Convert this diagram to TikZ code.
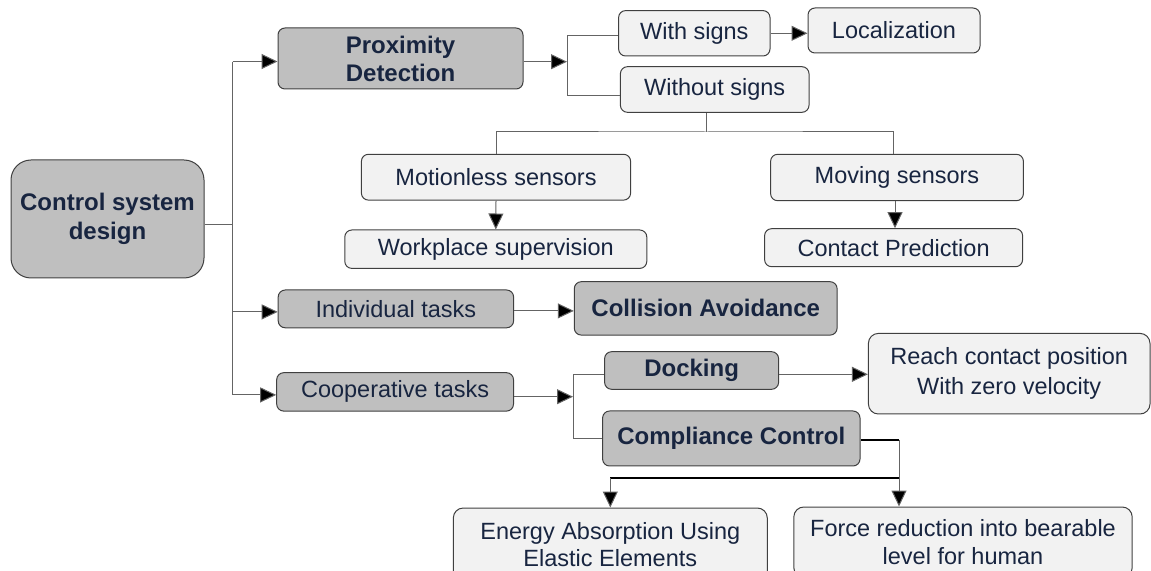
\documentclass[tikz,border=0pt]{standalone}
\usepackage{fontspec}
\setmainfont{Liberation Sans}
\usetikzlibrary{arrows.meta, positioning, calc}
\definecolor{boxgray}{RGB}{191,191,191}
\definecolor{boxlight}{RGB}{242,242,242}
\definecolor{txtblue}{RGB}{24,37,64}
\definecolor{linegray}{RGB}{100,100,100}

\begin{document}
\begin{tikzpicture}[x=0.5pt,y=-0.5pt,
      graybox/.style={
         rectangle,
         rounded corners=3.5pt,
         draw=black!75,
         fill=boxgray,
         line width=0.5pt,
         text=txtblue,
         inner sep=0pt,
         align=center,
         font=\fontsize{11.75}{15}\selectfont},
      lightbox/.style={
         graybox,
         fill=boxlight},
      boldbox/.style={
         graybox,
         font=\fontsize{12}{14}\selectfont\bfseries},
      myline/.style={draw=linegray, line width=0.5pt},
      myarrow/.style={myline, -{Triangle[length=8pt,width=7.5pt,fill=black]}}
      ]
      \useasboundingbox (0,0) rectangle (1151,571);
      \clip (0,0) rectangle (1151,571);

      % root and first level
      \node[boldbox, rounded corners=10pt, minimum width=96.5pt, minimum height=59pt,
            font=\fontsize{12}{14.3}\selectfont\bfseries] (csd) at (107.5,219) {Control system\\design};
      \node[boldbox, minimum width=122.5pt, minimum height=30.5pt] (prox) at (400.5,58.5) {Proximity\\Detection};
      \node[graybox, minimum width=117.7pt, minimum height=18.9pt] (ind) at (395.9,308.9) {Individual tasks};
      \node[graybox, minimum width=118.4pt, minimum height=19.2pt] (coop) at (395.1,391.9) {Cooperative tasks};

      % proximity branch
      \node[lightbox, minimum width=75.7pt, minimum height=22.7pt] (ws) at (694.3,33.3) {With signs};
      \node[lightbox, minimum width=86pt, minimum height=22.5pt] (loc) at (894,30.5) {Localization};
      \node[lightbox, minimum width=94.3pt, minimum height=22.8pt] (wos) at (714.7,89.5) {Without signs};
      \node[lightbox, minimum width=134.6pt, minimum height=22.9pt] (mls) at (496,177.2) {Motionless sensors};
      \node[lightbox, minimum width=151pt, minimum height=19.2pt] (wps) at (495.8,249.2) {Workplace supervision};
      \node[lightbox, minimum width=126.4pt, minimum height=23.2pt] (mvs) at (897,177.5) {Moving sensors};
      \node[lightbox, minimum width=129pt, minimum height=19pt] (cpr) at (893.6,247.7) {Contact Prediction};

      % tasks branch
      \node[boldbox, minimum width=131.4pt, minimum height=26.7pt] (col) at (705.7,308.4) {Collision Avoidance};
      \node[boldbox, minimum width=87pt, minimum height=18.8pt] (dock) at (691.6,370.5) {Docking};
      \node[lightbox, rounded corners=5pt, minimum width=140.8pt, minimum height=40.3pt] (reach) at (1009.2,373.7) {Reach contact position\\With zero velocity};
      \node[boldbox, minimum width=128.7pt, minimum height=27.5pt] (comp) at (731.3,438.5) {Compliance Control};
      \node[lightbox, rounded corners=5pt, minimum width=157pt, minimum height=36.5pt,
            font=\fontsize{11.75}{13.5}\selectfont] (ener) at (610.3,544.5) {Energy Absorption Using\\Elastic Elements};
      \node[lightbox, rounded corners=5pt, minimum width=169.2pt, minimum height=35.3pt,
            font=\fontsize{11.75}{14}\selectfont] (force) at (963,542.3) {Force reduction into bearable\\level for human};

      \coordinate (tk) at (232.5,0);
      \coordinate (br1) at (567,0);
      \coordinate (br2) at (573,0);
      \coordinate (sp) at (706.4,132);
      \coordinate (cc) at (899,440);
      \coordinate (sp2) at (899,478);

      % trunk
      \draw[myline] ([yshift=-3pt]csd.east) -- ([yshift=-3pt]csd.east -| tk);
      \draw[myline] ([yshift=-1.6pt]prox.west -| tk) -- ([yshift=-1.5pt]coop.west -| tk);
      \foreach \n in {prox, ind, coop}
         \draw[myarrow] ([yshift=-1.5pt]\n.west -| tk) -- ([yshift=-1.5pt]\n.west);

      % proximity detection
      \draw[myarrow] ([yshift=-1.6pt]prox.east) -- ([yshift=-1.6pt]prox.east -| br1);
      \draw[myline] ([yshift=-1.3pt]ws.west) -| ([yshift=-3.2pt]wos.west -| br1) -- ([yshift=-3.2pt]wos.west);
      \draw[myarrow] (ws.east) -- (ws.east -| loc.west);
      \draw[myline] (wos.south -| sp) -- (sp);
      \draw[myline] (mls.north) |- (sp) -| ([xshift=-2pt]mvs.north);
      \draw[myarrow] (mls.south) -- (wps.north);
      \draw[myarrow] ([xshift=-1pt]mvs.south) -- ([xshift=-1pt]mvs.south |- cpr.north);

      % tasks
      \draw[myarrow] ([yshift=-1pt]ind.east) -- ([yshift=-1pt]ind.east -| col.west);
      \draw[myarrow] ([yshift=-2.4pt]coop.east) -- ([yshift=-2.4pt]coop.east -| br2);
      \draw[myline] ([yshift=-1.9pt]dock.west) -| (comp.west -| br2) -- (comp.west);
      \draw[myarrow] ([yshift=-1.9pt]dock.east) -- ([yshift=-1.9pt]dock.east -| reach.west);
      \draw[line width=1pt] (comp.east |- cc) -- (cc);
      \draw[myarrow] (cc) -- (cc |- force.north);
      \draw[line width=0.7pt] (sp2) -- (sp2 -| ener.north);
      \draw[myarrow] (sp2 -| ener.north) -- (ener.north);
\end{tikzpicture}
\end{document}
